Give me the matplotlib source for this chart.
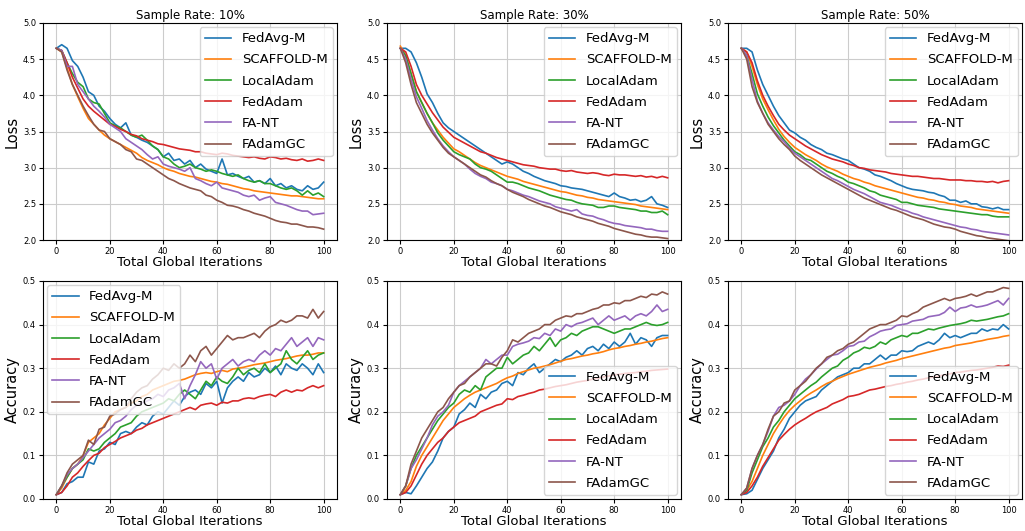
import numpy as np
import matplotlib
matplotlib.use("Agg")
import matplotlib.pyplot as plt

methods = ["FedAvg-M", "SCAFFOLD-M", "LocalAdam", "FedAdam", "FA-NT", "FAdamGC"]
rates = ["10%", "30%", "50%"]

# ---- Loss, sample rate 10% (every 2 iterations, 0..100) ----
loss10_fedavgm = [4.65,4.70,4.65,4.48,4.40,4.25,4.05,4.00,3.85,3.78,3.68,3.60,3.55,3.62,3.45,3.42,3.38,3.35,3.30,3.25,3.15,3.20,3.10,3.12,3.05,3.10,3.00,3.05,2.98,2.95,2.92,3.12,2.90,2.92,2.88,2.85,2.88,2.80,2.82,2.78,2.85,2.75,2.78,2.72,2.75,2.70,2.68,2.75,2.70,2.72,2.80]
loss10_scaffold = [4.65,4.60,4.38,4.15,3.98,3.82,3.68,3.60,3.52,3.45,3.40,3.36,3.32,3.28,3.24,3.20,3.14,3.10,3.07,3.04,3.00,2.97,2.95,2.92,2.90,2.88,2.87,2.85,2.83,2.81,2.80,2.78,2.77,2.75,2.73,2.71,2.70,2.68,2.67,2.66,2.65,2.64,2.63,2.62,2.61,2.61,2.60,2.59,2.58,2.57,2.57]
loss10_localadam = [4.65,4.62,4.45,4.30,4.18,4.12,3.95,3.90,3.88,3.75,3.62,3.58,3.55,3.50,3.45,3.42,3.45,3.38,3.30,3.25,3.15,3.12,3.05,3.00,3.02,3.05,3.00,2.98,2.95,2.97,2.95,2.92,2.90,2.88,2.90,2.85,2.82,2.80,2.82,2.78,2.78,2.75,2.72,2.70,2.72,2.68,2.62,2.68,2.62,2.65,2.60]
loss10_fedadam = [4.65,4.62,4.45,4.25,4.10,3.95,3.85,3.78,3.72,3.66,3.60,3.57,3.53,3.50,3.46,3.44,3.40,3.38,3.36,3.33,3.32,3.30,3.28,3.26,3.25,3.24,3.22,3.22,3.20,3.19,3.18,3.20,3.19,3.17,3.16,3.15,3.14,3.15,3.13,3.12,3.15,3.14,3.12,3.13,3.11,3.10,3.12,3.09,3.10,3.12,3.10]
loss10_fant = [4.65,4.62,4.40,4.40,4.15,4.05,3.95,3.85,3.78,3.70,3.60,3.55,3.50,3.40,3.35,3.30,3.25,3.18,3.12,3.15,3.05,3.02,3.00,2.98,2.95,3.00,2.85,2.82,2.78,2.75,2.80,2.72,2.70,2.68,2.66,2.62,2.60,2.62,2.55,2.58,2.60,2.52,2.50,2.48,2.45,2.42,2.40,2.40,2.35,2.36,2.37]
loss10_fadamgc = [4.65,4.60,4.35,4.15,4.00,3.85,3.72,3.60,3.52,3.50,3.40,3.36,3.32,3.25,3.22,3.12,3.10,3.05,3.00,2.95,2.90,2.85,2.82,2.78,2.75,2.72,2.70,2.68,2.62,2.60,2.55,2.52,2.48,2.47,2.45,2.42,2.40,2.37,2.35,2.33,2.30,2.27,2.25,2.24,2.22,2.22,2.20,2.18,2.18,2.17,2.15]

# ---- Loss, sample rate 30% ----
loss30_fedavgm = [4.65,4.65,4.60,4.45,4.25,4.02,3.90,3.75,3.62,3.55,3.50,3.45,3.40,3.35,3.30,3.25,3.20,3.15,3.10,3.05,3.08,3.05,3.00,2.95,2.92,2.88,2.85,2.82,2.80,2.78,2.75,2.74,2.72,2.71,2.70,2.68,2.66,2.64,2.62,2.60,2.65,2.60,2.58,2.55,2.56,2.53,2.55,2.60,2.50,2.48,2.45]
loss30_scaffold = [4.68,4.55,4.30,4.05,3.90,3.75,3.62,3.52,3.42,3.34,3.26,3.22,3.17,3.12,3.07,3.03,3.00,2.97,2.94,2.91,2.88,2.86,2.84,2.81,2.79,2.77,2.75,2.73,2.71,2.69,2.67,2.66,2.64,2.62,2.61,2.59,2.58,2.56,2.55,2.54,2.53,2.52,2.51,2.50,2.49,2.47,2.46,2.45,2.44,2.43,2.42]
loss30_localadam = [4.65,4.55,4.30,4.05,3.90,3.75,3.62,3.48,3.38,3.30,3.22,3.18,3.15,3.12,3.05,3.00,2.98,2.95,2.90,2.85,2.80,2.80,2.78,2.75,2.72,2.70,2.68,2.65,2.62,2.60,2.58,2.56,2.55,2.52,2.50,2.49,2.48,2.45,2.45,2.47,2.47,2.45,2.44,2.43,2.42,2.40,2.40,2.38,2.38,2.40,2.35]
loss30_fedadam = [4.65,4.60,4.40,4.15,4.00,3.88,3.76,3.66,3.56,3.49,3.42,3.38,3.34,3.30,3.26,3.22,3.20,3.17,3.14,3.12,3.10,3.08,3.06,3.04,3.03,3.02,3.00,2.99,2.98,2.98,2.96,2.95,2.96,2.94,2.93,2.92,2.93,2.92,2.90,2.89,2.91,2.90,2.90,2.89,2.88,2.89,2.87,2.88,2.86,2.88,2.86]
loss30_fant = [4.65,4.50,4.22,3.98,3.82,3.65,3.52,3.40,3.30,3.22,3.15,3.10,3.05,2.98,2.92,2.88,2.85,2.80,2.78,2.75,2.70,2.68,2.65,2.62,2.60,2.57,2.54,2.52,2.50,2.46,2.44,2.42,2.40,2.42,2.36,2.34,2.33,2.30,2.28,2.25,2.23,2.22,2.20,2.19,2.18,2.17,2.15,2.15,2.13,2.12,2.12]
loss30_fadamgc = [4.65,4.45,4.15,3.90,3.75,3.60,3.48,3.38,3.28,3.20,3.15,3.10,3.05,3.00,2.95,2.90,2.87,2.82,2.78,2.75,2.70,2.66,2.63,2.60,2.56,2.53,2.50,2.47,2.45,2.42,2.39,2.37,2.35,2.32,2.30,2.28,2.26,2.23,2.21,2.19,2.16,2.14,2.12,2.10,2.08,2.07,2.05,2.04,2.04,2.03,2.02]

# ---- Loss, sample rate 50% ----
loss50_fedavgm = [4.65,4.65,4.60,4.35,4.15,4.00,3.85,3.72,3.62,3.52,3.48,3.42,3.38,3.32,3.28,3.25,3.20,3.18,3.15,3.12,3.10,3.05,3.00,2.98,2.95,2.90,2.88,2.85,2.82,2.78,2.75,2.72,2.70,2.69,2.68,2.66,2.65,2.62,2.60,2.55,2.55,2.52,2.54,2.50,2.50,2.46,2.45,2.43,2.45,2.42,2.42]
loss50_scaffold = [4.65,4.60,4.40,4.15,3.95,3.80,3.66,3.53,3.43,3.35,3.28,3.23,3.18,3.14,3.10,3.05,3.01,2.98,2.95,2.91,2.88,2.85,2.83,2.80,2.78,2.75,2.73,2.71,2.69,2.67,2.65,2.63,2.61,2.59,2.58,2.56,2.55,2.53,2.52,2.50,2.49,2.47,2.46,2.45,2.43,2.42,2.41,2.40,2.39,2.38,2.37]
loss50_localadam = [4.65,4.55,4.30,4.02,3.85,3.70,3.58,3.48,3.38,3.30,3.22,3.18,3.12,3.10,3.05,3.00,2.95,2.92,2.88,2.85,2.80,2.78,2.75,2.72,2.68,2.66,2.62,2.60,2.58,2.56,2.52,2.52,2.50,2.48,2.47,2.46,2.45,2.43,2.42,2.41,2.40,2.39,2.38,2.37,2.36,2.35,2.35,2.33,2.32,2.32,2.32]
loss50_fedadam = [4.65,4.60,4.45,4.20,4.00,3.85,3.72,3.60,3.52,3.45,3.40,3.35,3.30,3.26,3.22,3.18,3.15,3.12,3.10,3.08,3.05,3.03,3.00,2.99,2.97,2.96,2.95,2.94,2.92,2.91,2.90,2.89,2.88,2.88,2.87,2.86,2.85,2.85,2.84,2.83,2.83,2.83,2.82,2.82,2.81,2.81,2.80,2.81,2.79,2.81,2.82]
loss50_fant = [4.65,4.55,4.22,3.92,3.75,3.62,3.52,3.43,3.36,3.27,3.20,3.15,3.10,3.05,3.00,2.95,2.90,2.85,2.82,2.78,2.74,2.70,2.67,2.64,2.60,2.56,2.52,2.50,2.48,2.45,2.42,2.40,2.37,2.35,2.32,2.30,2.28,2.26,2.24,2.22,2.20,2.18,2.17,2.15,2.14,2.12,2.11,2.10,2.09,2.08,2.07]
loss50_fadamgc = [4.65,4.50,4.12,3.90,3.75,3.60,3.50,3.40,3.32,3.25,3.16,3.10,3.05,3.00,2.95,2.90,2.86,2.82,2.78,2.74,2.70,2.66,2.62,2.58,2.55,2.52,2.49,2.46,2.43,2.41,2.38,2.35,2.32,2.30,2.28,2.25,2.22,2.20,2.18,2.17,2.15,2.12,2.10,2.08,2.06,2.05,2.03,2.02,2.01,2.00,1.99]

# ---- Accuracy, sample rate 10% ----
acc10_fedavgm = [0.010,0.015,0.035,0.040,0.050,0.050,0.085,0.080,0.110,0.115,0.130,0.125,0.150,0.155,0.150,0.165,0.175,0.170,0.190,0.200,0.195,0.210,0.225,0.215,0.235,0.245,0.250,0.240,0.265,0.255,0.270,0.220,0.255,0.270,0.280,0.270,0.290,0.280,0.285,0.300,0.290,0.305,0.285,0.310,0.300,0.295,0.310,0.300,0.285,0.310,0.290]
acc10_scaffold = [0.010,0.025,0.050,0.070,0.080,0.100,0.130,0.140,0.150,0.170,0.185,0.200,0.205,0.210,0.220,0.225,0.235,0.240,0.250,0.255,0.260,0.265,0.270,0.272,0.275,0.280,0.285,0.288,0.290,0.288,0.292,0.295,0.292,0.298,0.300,0.302,0.305,0.308,0.310,0.312,0.315,0.318,0.320,0.322,0.325,0.328,0.330,0.330,0.332,0.335,0.335]
acc10_localadam = [0.010,0.030,0.050,0.070,0.080,0.090,0.115,0.110,0.115,0.130,0.140,0.150,0.165,0.170,0.175,0.190,0.200,0.205,0.210,0.215,0.220,0.230,0.225,0.240,0.250,0.240,0.230,0.250,0.270,0.260,0.280,0.270,0.265,0.280,0.300,0.285,0.295,0.300,0.290,0.310,0.290,0.300,0.310,0.340,0.320,0.310,0.325,0.340,0.320,0.330,0.335]
acc10_fedadam = [0.010,0.015,0.030,0.050,0.060,0.075,0.088,0.100,0.105,0.118,0.125,0.132,0.140,0.145,0.150,0.158,0.162,0.170,0.175,0.180,0.185,0.190,0.195,0.200,0.205,0.210,0.205,0.215,0.218,0.220,0.215,0.222,0.220,0.225,0.225,0.230,0.232,0.230,0.235,0.238,0.240,0.235,0.245,0.250,0.245,0.250,0.248,0.255,0.260,0.255,0.260]
acc10_fant = [0.010,0.030,0.055,0.070,0.080,0.095,0.110,0.125,0.140,0.150,0.160,0.175,0.180,0.190,0.205,0.215,0.220,0.225,0.230,0.240,0.235,0.250,0.255,0.265,0.230,0.260,0.285,0.315,0.300,0.310,0.275,0.300,0.310,0.320,0.305,0.315,0.320,0.315,0.330,0.340,0.330,0.345,0.340,0.355,0.370,0.350,0.360,0.370,0.350,0.370,0.365]
acc10_fadamgc = [0.010,0.030,0.060,0.080,0.090,0.100,0.135,0.125,0.160,0.165,0.190,0.195,0.205,0.210,0.230,0.245,0.255,0.260,0.275,0.285,0.300,0.295,0.310,0.300,0.310,0.330,0.315,0.340,0.350,0.330,0.345,0.360,0.375,0.365,0.370,0.370,0.375,0.380,0.370,0.385,0.395,0.400,0.410,0.405,0.410,0.420,0.420,0.415,0.435,0.415,0.430]

# ---- Accuracy, sample rate 30% ----
acc30_fedavgm = [0.010,0.015,0.012,0.030,0.050,0.070,0.085,0.110,0.140,0.155,0.165,0.195,0.205,0.220,0.210,0.240,0.230,0.245,0.250,0.265,0.270,0.260,0.290,0.285,0.300,0.310,0.290,0.300,0.310,0.320,0.315,0.325,0.330,0.340,0.330,0.345,0.350,0.340,0.355,0.345,0.360,0.350,0.360,0.380,0.355,0.370,0.365,0.350,0.370,0.375,0.375]
acc30_scaffold = [0.010,0.020,0.040,0.075,0.100,0.120,0.140,0.160,0.180,0.195,0.210,0.220,0.230,0.238,0.245,0.250,0.255,0.260,0.265,0.272,0.278,0.282,0.288,0.292,0.296,0.300,0.302,0.305,0.308,0.312,0.316,0.320,0.322,0.325,0.328,0.330,0.333,0.335,0.338,0.342,0.345,0.347,0.350,0.352,0.355,0.357,0.360,0.362,0.365,0.368,0.370]
acc30_localadam = [0.010,0.030,0.070,0.100,0.120,0.140,0.160,0.180,0.195,0.210,0.220,0.240,0.250,0.245,0.260,0.250,0.280,0.290,0.300,0.300,0.325,0.310,0.320,0.330,0.335,0.350,0.340,0.355,0.370,0.350,0.365,0.370,0.380,0.375,0.385,0.390,0.395,0.395,0.390,0.385,0.380,0.385,0.390,0.390,0.395,0.400,0.405,0.400,0.398,0.400,0.405]
acc30_fedadam = [0.010,0.015,0.030,0.055,0.080,0.100,0.115,0.130,0.140,0.155,0.165,0.175,0.180,0.185,0.190,0.200,0.205,0.210,0.215,0.218,0.230,0.228,0.235,0.238,0.242,0.245,0.250,0.252,0.255,0.258,0.260,0.262,0.265,0.268,0.270,0.272,0.275,0.277,0.280,0.282,0.285,0.286,0.288,0.289,0.290,0.292,0.293,0.295,0.296,0.297,0.298]
acc30_fant = [0.010,0.030,0.070,0.090,0.115,0.140,0.170,0.190,0.200,0.215,0.245,0.260,0.270,0.280,0.290,0.300,0.320,0.310,0.320,0.330,0.330,0.350,0.355,0.358,0.362,0.370,0.368,0.380,0.375,0.390,0.385,0.400,0.395,0.402,0.405,0.410,0.415,0.400,0.410,0.420,0.410,0.415,0.420,0.410,0.420,0.425,0.420,0.430,0.445,0.430,0.435]
acc30_fadamgc = [0.010,0.030,0.080,0.110,0.140,0.160,0.180,0.200,0.210,0.230,0.245,0.260,0.265,0.280,0.290,0.300,0.310,0.310,0.305,0.325,0.340,0.365,0.360,0.370,0.380,0.385,0.390,0.400,0.400,0.410,0.415,0.420,0.418,0.425,0.425,0.430,0.435,0.438,0.445,0.445,0.450,0.448,0.455,0.455,0.460,0.465,0.462,0.470,0.468,0.475,0.470]

# ---- Accuracy, sample rate 50% ----
acc50_fedavgm = [0.010,0.012,0.020,0.045,0.070,0.090,0.110,0.140,0.160,0.185,0.200,0.215,0.225,0.230,0.235,0.250,0.260,0.270,0.280,0.285,0.290,0.300,0.300,0.310,0.310,0.320,0.330,0.320,0.330,0.330,0.340,0.338,0.340,0.350,0.355,0.360,0.355,0.365,0.380,0.370,0.375,0.370,0.375,0.380,0.380,0.390,0.385,0.390,0.388,0.400,0.390]
acc50_scaffold = [0.010,0.020,0.040,0.070,0.100,0.125,0.150,0.170,0.188,0.203,0.215,0.225,0.235,0.243,0.250,0.258,0.265,0.270,0.276,0.281,0.286,0.290,0.294,0.298,0.302,0.305,0.308,0.312,0.315,0.318,0.322,0.325,0.328,0.331,0.334,0.337,0.340,0.343,0.346,0.348,0.352,0.354,0.356,0.358,0.361,0.363,0.366,0.368,0.370,0.373,0.375]
acc50_localadam = [0.010,0.020,0.060,0.090,0.120,0.140,0.165,0.180,0.200,0.215,0.230,0.240,0.250,0.260,0.268,0.280,0.290,0.300,0.305,0.318,0.325,0.335,0.340,0.348,0.345,0.350,0.360,0.355,0.365,0.370,0.375,0.372,0.380,0.380,0.385,0.390,0.388,0.392,0.395,0.398,0.400,0.402,0.405,0.410,0.408,0.410,0.412,0.415,0.418,0.420,0.425]
acc50_fedadam = [0.010,0.015,0.030,0.050,0.075,0.095,0.115,0.135,0.148,0.160,0.170,0.178,0.185,0.193,0.200,0.205,0.210,0.218,0.223,0.228,0.235,0.237,0.240,0.245,0.250,0.252,0.255,0.258,0.260,0.263,0.265,0.268,0.270,0.273,0.275,0.278,0.280,0.282,0.285,0.287,0.290,0.291,0.293,0.295,0.296,0.298,0.300,0.302,0.305,0.304,0.307]
acc50_fant = [0.010,0.025,0.070,0.100,0.125,0.155,0.190,0.210,0.215,0.225,0.240,0.260,0.275,0.285,0.298,0.310,0.320,0.330,0.332,0.340,0.350,0.352,0.360,0.362,0.372,0.378,0.385,0.388,0.390,0.398,0.400,0.402,0.408,0.410,0.412,0.418,0.420,0.422,0.428,0.440,0.430,0.438,0.440,0.445,0.440,0.442,0.445,0.450,0.455,0.445,0.460]
acc50_fadamgc = [0.010,0.025,0.070,0.100,0.125,0.160,0.190,0.200,0.220,0.225,0.250,0.260,0.270,0.285,0.300,0.310,0.325,0.330,0.340,0.345,0.355,0.360,0.370,0.380,0.390,0.395,0.400,0.400,0.405,0.410,0.420,0.418,0.425,0.430,0.440,0.445,0.450,0.455,0.460,0.455,0.460,0.462,0.465,0.470,0.465,0.470,0.475,0.475,0.480,0.485,0.483]

loss_sets = [
    [loss10_fedavgm, loss10_scaffold, loss10_localadam, loss10_fedadam, loss10_fant, loss10_fadamgc],
    [loss30_fedavgm, loss30_scaffold, loss30_localadam, loss30_fedadam, loss30_fant, loss30_fadamgc],
    [loss50_fedavgm, loss50_scaffold, loss50_localadam, loss50_fedadam, loss50_fant, loss50_fadamgc],
]
acc_sets = [
    [acc10_fedavgm, acc10_scaffold, acc10_localadam, acc10_fedadam, acc10_fant, acc10_fadamgc],
    [acc30_fedavgm, acc30_scaffold, acc30_localadam, acc30_fedadam, acc30_fant, acc30_fadamgc],
    [acc50_fedavgm, acc50_scaffold, acc50_localadam, acc50_fedadam, acc50_fant, acc50_fadamgc],
]

colors = ["#1f77b4", "#ff7f0e", "#2ca02c", "#d62728", "#9467bd", "#8c564b"]

fig = plt.figure(figsize=(10.25, 5.31), dpi=100)
W, H = 1025.0, 531.0
lefts = [43, 387, 728]
axw = 294
top_row = (23, 240)
bot_row = (281, 499)

legend_locs = ["upper right", "upper right", "upper right"]
acc_legend_locs = ["upper left", "lower right", "lower right"]

def make_ax(left, rowspan):
    t, b = rowspan
    return fig.add_axes([left / W, 1 - b / H, axw / W, (b - t) / H])

def style(ax):
    ax.set_xlim(-5, 105)
    ax.set_xticks([0, 20, 40, 60, 80, 100])
    ax.set_xlabel("Total Global Iterations", fontsize=9.5, labelpad=0)
    ax.tick_params(labelsize=6, length=3, pad=2)
    ax.grid(True, color="#cccccc", lw=0.8)

for j in range(3):
    ax = make_ax(lefts[j], top_row)
    for k, m in enumerate(methods):
        y = loss_sets[j][k]
        x = np.linspace(0, 100, len(y))
        ax.plot(x, y, color=colors[k], lw=1.2, label=m)
    ax.set_ylim(2.0, 5.0)
    style(ax)
    ax.set_title("Sample Rate: " + rates[j], fontsize=8.5, pad=3)
    ax.set_ylabel("Loss", fontsize=10.5, labelpad=2)
    ax.legend(loc=legend_locs[j], fontsize=9.5, handlelength=2.0,
              borderaxespad=0.3, labelspacing=0.62)

    ax2 = make_ax(lefts[j], bot_row)
    for k, m in enumerate(methods):
        y = acc_sets[j][k]
        x = np.linspace(0, 100, len(y))
        ax2.plot(x, y, color=colors[k], lw=1.2, label=m)
    ax2.set_ylim(0.0, 0.5)
    style(ax2)
    ax2.set_ylabel("Accuracy", fontsize=10.5, labelpad=2)
    ax2.legend(loc=acc_legend_locs[j], fontsize=9.5, handlelength=2.0,
               borderaxespad=0.3, labelspacing=0.62)

fig.savefig("out.png", dpi=100)
